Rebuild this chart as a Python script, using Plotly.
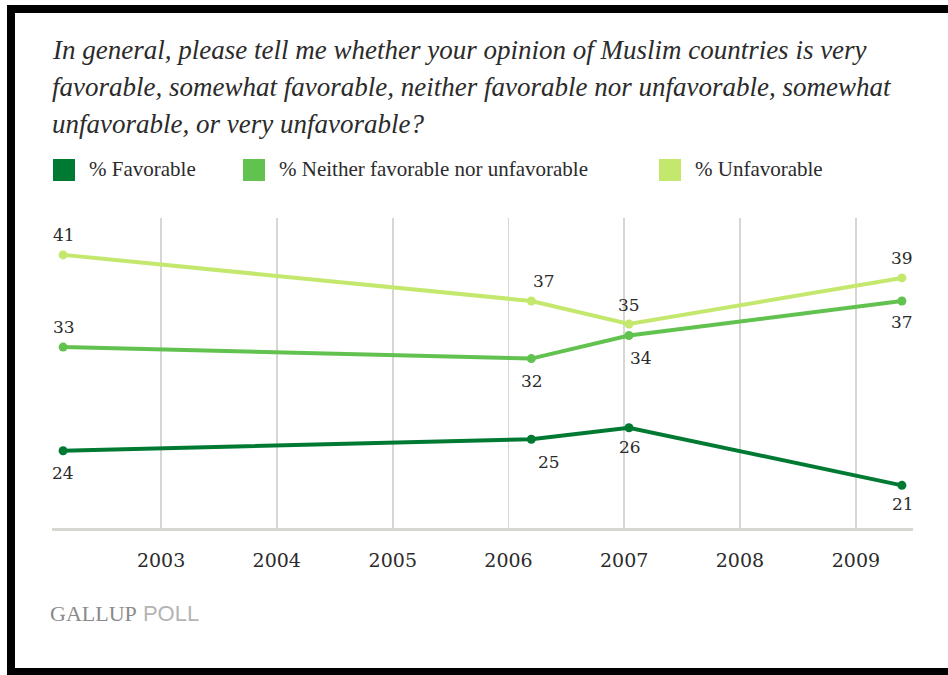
import plotly.graph_objects as go

# ---- data ----
dates = ["2002-02-26", "2006-03-14", "2007-01-16", "2009-05-26"]
favorable = [24, 25, 26, 21]
neither = [33, 32, 34, 37]
unfavorable = [41, 37, 35, 39]
series_names = ["% Favorable", "% Neither favorable nor unfavorable", "% Unfavorable"]
year_ticks = ["2003", "2004", "2005", "2006", "2007", "2008", "2009"]
title_lines = [
    "In general, please tell me whether your opinion of Muslim countries is very",
    "favorable, somewhat favorable, neither favorable nor unfavorable, somewhat",
    "unfavorable, or very unfavorable?",
]

# ---- style ----
W, H = 948, 675
L, R, T, B = 52, 35, 218, 147
PW, PH = W - L - R, H - T - B
colors = ["#007a33", "#62c24f", "#c4e86d"]
text_color = "#2b2b2b"
serif = "Liberation Serif"
num_font = "DejaVu Serif"

def px_x(p):
    return (p - L) / PW

def px_y(p):
    return (H - B - p) / PH

# label offsets (xshift, yshift) per point, per series
offsets = [
    [(0, -22), (18, -23), (1, -19), (1, -19)],
    [(1, 20), (1, -22), (12, -22), (0, -21)],
    [(1, 20), (13, 20), (0, 19), (0, 20)],
]

fig = go.Figure()
all_series = [favorable, neither, unfavorable]
for vals, col, name in zip(all_series, colors, series_names):
    fig.add_trace(go.Scatter(
        x=dates, y=vals, mode="lines+markers", name=name,
        line=dict(color=col, width=4),
        marker=dict(color=col, size=9),
        showlegend=False, hoverinfo="skip",
    ))

annotations = []
for vals, offs in zip(all_series, offsets):
    for d, v, (dx, dy) in zip(dates, vals, offs):
        annotations.append(dict(
            x=d, y=v, xref="x", yref="y", text=str(v), showarrow=False,
            xshift=dx, yshift=dy,
            font=dict(family=num_font, size=17, color=text_color),
        ))

# title lines
for i, line in enumerate(title_lines):
    annotations.append(dict(
        x=px_x(50), y=px_y(50 + i * 37), xref="paper", yref="paper",
        xanchor="left", yanchor="middle", showarrow=False,
        text="<i>" + line + "</i>",
        font=dict(family=serif, size=27, color=text_color),
    ))

# legend (manual)
legend_sq_x = [53, 243, 659]
shapes = []
for sx, col, name in zip(legend_sq_x, colors, series_names):
    shapes.append(dict(
        type="rect", xref="paper", yref="paper",
        x0=px_x(sx), x1=px_x(sx + 22), y0=px_y(181), y1=px_y(159),
        fillcolor=col, line=dict(width=0),
    ))
    annotations.append(dict(
        x=px_x(sx + 34), y=px_y(169), xref="paper", yref="paper",
        xanchor="left", yanchor="middle", showarrow=False, text=name,
        font=dict(family=serif, size=21, color=text_color),
    ))

# source
annotations.append(dict(
    x=px_x(48), y=px_y(613), xref="paper", yref="paper",
    xanchor="left", yanchor="middle", showarrow=False,
    text="<span style='font-family:Liberation Serif'>GALLUP</span>"
         "<span style='font-family:Liberation Sans;color:#b4b4b4'> POLL</span>",
    font=dict(family=serif, size=22, color="#8a8a8a"),
))

# black border (left, top, bottom)
for (x0, y0, x1, y1) in [(7, 5, 15, 675), (7, 5, 948, 13), (7, 668, 948, 675)]:
    shapes.append(dict(
        type="rect", xref="paper", yref="paper",
        x0=px_x(x0), x1=px_x(x1), y0=px_y(y1), y1=px_y(y0),
        fillcolor="black", line=dict(width=0), layer="above",
    ))

fig.update_layout(
    width=W, height=H,
    margin=dict(l=L, r=R, t=T, b=B),
    paper_bgcolor="white", plot_bgcolor="white",
    annotations=annotations, shapes=shapes,
    xaxis=dict(
        type="date", range=["2002-01-22", "2009-06-30"],
        tickvals=[y + "-01-01" for y in year_ticks], ticktext=year_ticks,
        showgrid=True, gridcolor="#d6d6d2", gridwidth=1.5,
        showline=True, linecolor="#d6d6d2", linewidth=3,
        ticks="", ticklabelstandoff=13,
        tickfont=dict(family=num_font, size=19, color=text_color),
        zeroline=False, fixedrange=True,
    ),
    yaxis=dict(
        range=[17.3, 44.2], visible=False, showgrid=False, zeroline=False,
        fixedrange=True,
    ),
)

fig.write_html(
    "out.html",
    config={"displayModeBar": False, "staticPlot": True},
    post_script="document.body.style.margin='0';",
)
